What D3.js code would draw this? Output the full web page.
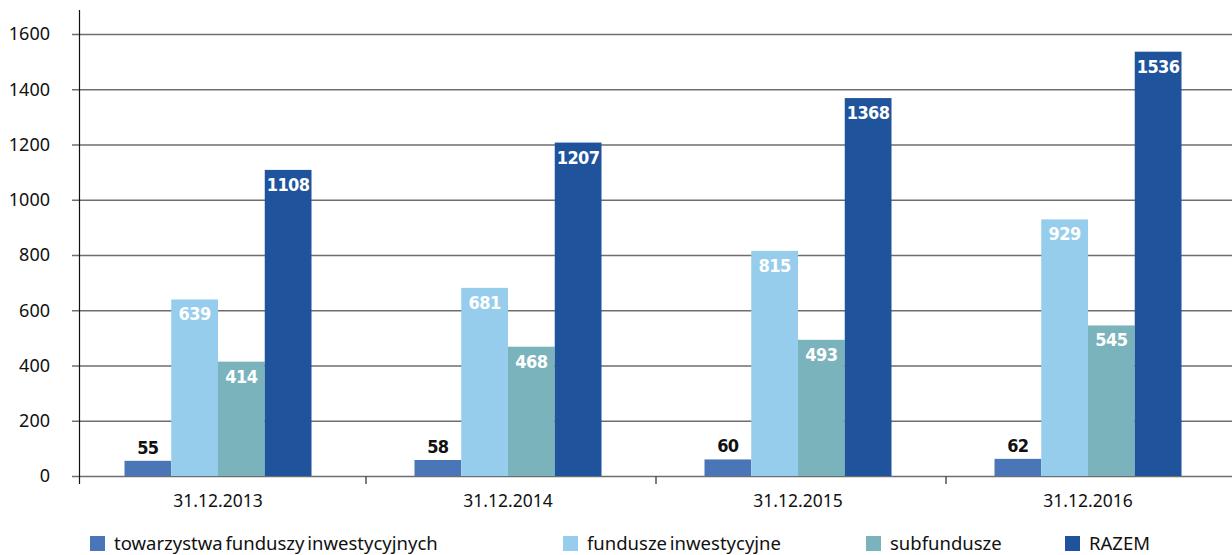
<!DOCTYPE html>
<html>
<head>
<meta charset="utf-8">
<script src="https://cdn.jsdelivr.net/npm/d3@7"></script>
<style>
  html, body { margin: 0; padding: 0; background: #fff; }
  svg { display: block; }
</style>
</head>
<body>
<svg id="chart" width="1232" height="555"></svg>
<script>
// data
var dates = ["31.12.2013", "31.12.2014", "31.12.2015", "31.12.2016"];
var seriesNames = ["towarzystwa funduszy inwestycyjnych", "fundusze inwestycyjne", "subfundusze", "RAZEM"];
var tfi = [55, 58, 60, 62];
var fundusze = [639, 681, 815, 929];
var subfundusze = [414, 468, 493, 545];
var razem = [1108, 1207, 1368, 1536];
var yTicks = [0, 200, 400, 600, 800, 1000, 1200, 1400, 1600];

var colors = ["#4a76b8", "#97cdec", "#7bb3bc", "#1f539c"];
var labelFill = ["#111", "#fff", "#fff", "#fff"];
var seriesValues = [tfi, fundusze, subfundusze, razem];

var svg = d3.select("#chart");
var axisFont = "'Noto Sans', 'Open Sans', sans-serif";
var labelFont = "'Liberation Sans Narrow', 'DejaVu Sans Condensed', 'Roboto', sans-serif";

// scales
var y = d3.scaleLinear().domain([0, 1600]).range([476, 34]);
var x0 = d3.scaleBand().domain(dates).range([73, 1233]).paddingInner(0).paddingOuter(0);
var groupW = 187;
var x1 = d3.scaleBand().domain(d3.range(4)).range([0, groupW]).padding(0);

// gridlines
svg.append("g").selectAll("line")
    .data(yTicks).enter().append("line")
    .attr("x1", 72).attr("x2", 1232)
    .attr("y1", function(d) { return y(d) + 0.5; })
    .attr("y2", function(d) { return y(d) + 0.5; })
    .attr("stroke", "#6e6e6e")
    .attr("stroke-width", 1.4);

// y tick labels
svg.append("g").selectAll("text")
    .data(yTicks).enter().append("text")
    .attr("x", 50)
    .attr("y", function(d) { return y(d); })
    .attr("dy", "0.36em")
    .attr("text-anchor", "end")
    .attr("font-family", axisFont)
    .attr("font-size", 18)
    .attr("fill", "#111")
    .text(function(d) { return d; });

// bars
var groups = svg.append("g").selectAll("g")
    .data(dates).enter().append("g")
    .attr("transform", function(d) {
        return "translate(" + (x0(d) + (x0.bandwidth() - groupW) / 2) + ",0)";
    });

groups.selectAll("rect")
    .data(function(d, i) { return seriesValues.map(function(s, k) { return { k: k, v: s[i] }; }); })
    .enter().append("rect")
    .attr("x", function(d) { return x1(d.k); })
    .attr("width", x1.bandwidth())
    .attr("y", function(d) { return y(d.v); })
    .attr("height", function(d) { return y(0) - y(d.v); })
    .attr("fill", function(d) { return colors[d.k]; });

// value labels: first series above, others inside top
groups.selectAll("text")
    .data(function(d, i) { return seriesValues.map(function(s, k) { return { k: k, v: s[i] }; }); })
    .enter().append("text")
    .attr("x", function(d) { return x1(d.k) + x1.bandwidth() / 2; })
    .attr("y", function(d) { return d.k === 0 ? y(d.v) - 7 : y(d.v) + 21; })
    .attr("text-anchor", "middle")
    .attr("font-family", labelFont)
    .attr("font-weight", "bold")
    .attr("font-size", 18)
    .attr("letter-spacing", -0.6)
    .attr("fill", function(d) { return labelFill[d.k]; })
    .text(function(d) { return d.v; });

// y axis line
svg.append("line")
    .attr("x1", 79.5).attr("x2", 79.5)
    .attr("y1", 10).attr("y2", 484)
    .attr("stroke", "#111").attr("stroke-width", 1.2);

// x category tick marks
var bounds = dates.slice(1).map(function(d) { return x0(d); });
svg.append("g").selectAll("line")
    .data(bounds).enter().append("line")
    .attr("x1", function(d) { return d + 3; }).attr("x2", function(d) { return d + 3; })
    .attr("y1", 476).attr("y2", 484)
    .attr("stroke", "#555").attr("stroke-width", 1.5);

// category labels
svg.append("g").selectAll("text")
    .data(dates).enter().append("text")
    .attr("x", function(d) { return x0(d) + x0.bandwidth() / 2; })
    .attr("y", 507)
    .attr("text-anchor", "middle")
    .attr("font-family", axisFont)
    .attr("font-size", 17.5)
    .attr("fill", "#111")
    .text(function(d) { return d; });

// legend
var legendX = [90, 563, 866, 1065];
var legend = svg.append("g").selectAll("g")
    .data(seriesNames).enter().append("g")
    .attr("transform", function(d, i) { return "translate(" + legendX[i] + ",536)"; });
legend.append("rect")
    .attr("width", 15).attr("height", 15)
    .attr("fill", function(d, i) { return colors[i]; });
legend.append("text")
    .attr("x", 24).attr("y", 13.5)
    .attr("font-family", axisFont)
    .attr("font-size", 18.5)
    .attr("word-spacing", -2)
    .attr("fill", "#111")
    .text(function(d) { return d; });
</script>
</body>
</html>
